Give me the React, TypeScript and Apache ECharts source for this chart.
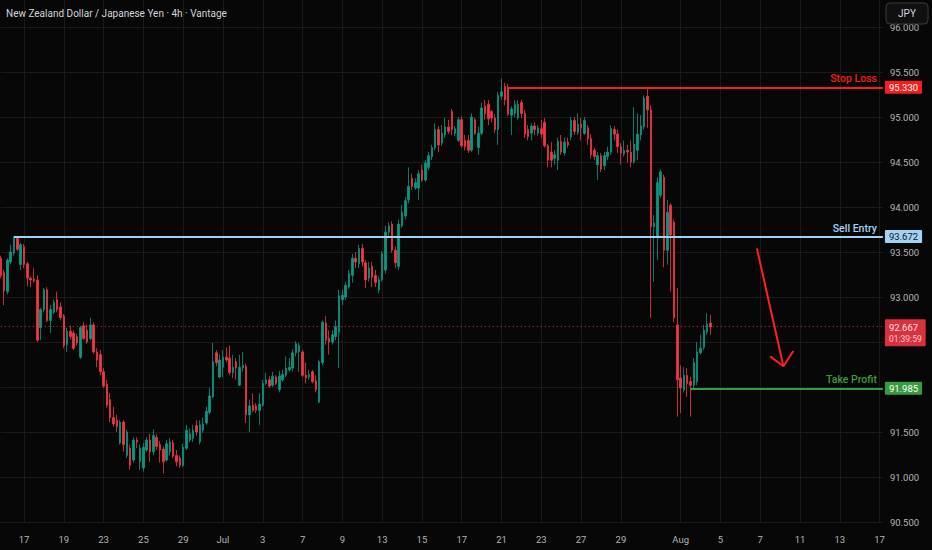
import React, { useEffect, useRef } from "react";
import * as echarts from "echarts";

// ---- candle data (4h bars) ----
const opens = [
  93.43, 93.27, 93.06, 93.39, 93.49, 93.65, 93.36, 93.56, 93.37, 93.21,
  93.20, 93.19, 92.66, 92.86, 93.08, 92.74, 92.83, 92.97, 92.89, 92.79,
  92.47, 92.62, 92.60, 92.56, 92.33, 92.68, 92.63, 92.54, 92.69, 92.39,
  92.36, 92.17, 92.03, 91.86, 91.66, 91.63, 91.38, 91.61, 91.24, 91.32,
  91.19, 91.41, 91.17, 91.10, 91.30, 91.41, 91.28, 91.44, 91.36, 91.31,
  91.19, 91.28, 91.38, 91.24, 91.21, 91.13, 91.32, 91.41, 91.43, 91.57,
  91.39, 91.52, 91.60, 91.72, 91.89, 92.38, 92.11, 92.22, 92.33, 92.32,
  92.16, 92.28, 92.02, 92.21, 92.23, 91.69, 91.80, 91.79, 91.74, 91.80,
  92.04, 92.08, 92.02, 92.11, 91.97, 92.08, 92.13, 92.19, 92.21, 92.38,
  92.39, 92.39, 92.13, 92.11, 92.17, 92.07, 91.83, 92.27, 92.71, 92.54,
  92.50, 92.56, 92.61, 92.97, 93.00, 93.11, 93.24, 93.43, 93.37, 93.54,
  93.38, 93.21, 93.34, 93.24, 93.08, 93.19, 93.30, 93.72, 93.81, 93.52,
  93.34, 93.79, 93.90, 94.08, 94.32, 94.21, 94.21, 94.41, 94.30, 94.44,
  94.56, 94.66, 94.86, 94.71, 94.80, 94.89, 95.06, 94.82, 94.74, 94.97,
  94.74, 94.74, 94.63, 94.97, 94.66, 94.82, 95.12, 95.14, 95.06, 94.99,
  94.86, 95.23, 95.34, 95.33, 95.02, 95.04, 94.99, 95.16, 95.04, 94.86,
  94.82, 94.90, 94.82, 94.87, 94.94, 94.68, 94.61, 94.54, 94.52, 94.73,
  94.60, 94.72, 94.78, 94.96, 94.83, 94.92, 94.82, 94.88, 94.76, 94.63,
  94.47, 94.57, 94.46, 94.56, 94.61, 94.86, 94.81, 94.67, 94.59, 94.63,
  94.61, 94.50, 94.63, 94.80, 94.89, 95.23, 95.08, 93.78, 93.67, 94.13,
  94.33, 93.52, 94.02, 93.83, 92.69, 92.10, 91.97, 92.13, 92.06, 92.02,
  92.06, 92.38, 92.44, 92.61, 92.71,
];
const closes = [
  93.24, 93.07, 93.41, 93.50, 93.67, 93.53, 93.58, 93.36, 93.21, 93.19,
  93.18, 92.52, 92.86, 93.08, 92.74, 92.86, 92.94, 92.86, 92.77, 92.46,
  92.62, 92.56, 92.43, 92.49, 92.66, 92.54, 92.50, 92.69, 92.39, 92.30,
  92.17, 92.01, 91.80, 91.66, 91.59, 91.56, 91.61, 91.36, 91.50, 91.13,
  91.41, 91.39, 91.32, 91.33, 91.41, 91.28, 91.46, 91.34, 91.30, 91.17,
  91.37, 91.39, 91.23, 91.17, 91.13, 91.33, 91.52, 91.48, 91.52, 91.50,
  91.58, 91.59, 91.73, 91.90, 92.28, 92.27, 92.30, 92.33, 92.30, 92.16,
  92.22, 92.21, 92.22, 92.24, 91.69, 91.79, 91.74, 91.74, 91.81, 92.04,
  92.08, 92.01, 92.12, 92.04, 92.12, 92.14, 92.21, 92.22, 92.38, 92.48,
  92.46, 92.13, 92.10, 92.14, 92.06, 91.97, 92.28, 92.72, 92.52, 92.50,
  92.58, 92.67, 93.01, 93.02, 93.13, 93.26, 93.43, 93.39, 93.54, 93.39,
  93.19, 93.32, 93.22, 93.16, 93.19, 93.48, 93.72, 93.79, 93.52, 93.38,
  93.81, 93.94, 94.07, 94.23, 94.23, 94.27, 94.37, 94.30, 94.49, 94.57,
  94.66, 94.86, 94.69, 94.82, 94.89, 94.84, 94.86, 94.87, 94.97, 94.68,
  94.67, 94.63, 95.00, 94.82, 94.82, 95.10, 95.04, 94.98, 94.99, 94.86,
  95.24, 95.28, 95.19, 95.03, 95.09, 95.14, 95.14, 95.04, 94.81, 94.78,
  94.90, 94.86, 94.88, 94.81, 94.68, 94.52, 94.52, 94.58, 94.73, 94.61,
  94.72, 94.69, 94.96, 94.84, 94.92, 94.88, 94.96, 94.76, 94.58, 94.56,
  94.57, 94.42, 94.57, 94.61, 94.87, 94.81, 94.67, 94.60, 94.63, 94.61,
  94.50, 94.70, 94.81, 94.90, 95.21, 95.08, 93.78, 93.82, 94.27, 94.39,
  93.52, 93.94, 93.69, 92.77, 92.08, 91.99, 92.13, 92.04, 92.02, 92.27,
  92.39, 92.43, 92.63, 92.70, 92.667,
];
const highs = [
  93.46, 93.30, 93.43, 93.58, 93.68, 93.66, 93.60, 93.59, 93.39, 93.23,
  93.32, 93.24, 92.88, 93.10, 93.11, 92.91, 92.97, 93.06, 92.94, 92.81,
  92.66, 92.68, 92.63, 92.59, 92.68, 92.72, 92.69, 92.77, 92.72, 92.43,
  92.41, 92.21, 92.08, 91.93, 91.78, 91.69, 91.63, 91.63, 91.52, 91.36,
  91.44, 91.44, 91.36, 91.38, 91.44, 91.48, 91.53, 91.48, 91.40, 91.34,
  91.41, 91.43, 91.41, 91.30, 91.24, 91.37, 91.58, 91.54, 91.58, 91.63,
  91.63, 91.66, 91.78, 91.99, 92.49, 92.41, 92.36, 92.41, 92.44, 92.46,
  92.36, 92.32, 92.36, 92.39, 92.26, 91.86, 91.93, 91.82, 91.93, 92.08,
  92.16, 92.12, 92.17, 92.13, 92.18, 92.19, 92.34, 92.32, 92.42, 92.51,
  92.49, 92.41, 92.27, 92.19, 92.19, 92.13, 92.30, 92.74, 92.79, 92.63,
  92.63, 92.74, 93.08, 93.08, 93.17, 93.30, 93.48, 93.50, 93.58, 93.59,
  93.41, 93.39, 93.39, 93.30, 93.23, 93.51, 93.79, 93.83, 93.84, 93.56,
  93.86, 94.02, 94.11, 94.44, 94.37, 94.32, 94.41, 94.47, 94.52, 94.61,
  94.69, 94.93, 94.90, 94.91, 94.99, 94.97, 95.09, 94.90, 95.00, 95.01,
  94.80, 94.80, 95.04, 94.99, 94.89, 95.16, 95.19, 95.19, 95.08, 95.03,
  95.28, 95.43, 95.38, 95.37, 95.12, 95.19, 95.19, 95.19, 95.08, 94.91,
  94.93, 94.94, 94.91, 94.97, 94.99, 94.70, 94.72, 94.63, 94.77, 94.80,
  94.77, 94.77, 95.00, 95.00, 95.04, 94.99, 95.00, 94.91, 94.81, 94.66,
  94.61, 94.60, 94.61, 94.67, 94.91, 94.90, 94.86, 94.71, 94.74, 94.69,
  94.74, 95.11, 95.04, 95.02, 95.24, 95.32, 95.13, 93.91, 94.33, 94.42,
  94.36, 94.08, 94.04, 93.86, 93.10, 92.24, 92.22, 92.21, 92.11, 92.32,
  92.50, 92.58, 92.69, 92.82, 92.80,
];
const lows = [
  93.21, 92.91, 93.03, 93.37, 93.46, 93.51, 93.30, 93.32, 93.12, 93.11,
  93.16, 92.50, 92.52, 92.83, 92.72, 92.60, 92.81, 92.83, 92.74, 92.43,
  92.39, 92.53, 92.41, 92.46, 92.31, 92.52, 92.48, 92.52, 92.37, 92.22,
  92.13, 91.99, 91.77, 91.61, 91.56, 91.50, 91.36, 91.28, 91.21, 91.08,
  91.16, 91.32, 91.08, 91.06, 91.28, 91.17, 91.24, 91.30, 91.16, 91.04,
  91.17, 91.24, 91.21, 91.12, 91.10, 91.11, 91.30, 91.39, 91.39, 91.46,
  91.36, 91.49, 91.58, 91.70, 91.88, 92.23, 92.10, 92.11, 92.28, 92.13,
  92.10, 92.08, 92.01, 92.17, 91.60, 91.50, 91.72, 91.71, 91.58, 91.78,
  92.02, 91.99, 92.00, 92.02, 91.94, 92.06, 92.11, 92.17, 92.17, 92.34,
  92.17, 92.11, 92.04, 92.08, 92.04, 91.94, 91.82, 92.24, 92.47, 92.36,
  92.47, 92.52, 92.21, 92.91, 92.97, 93.09, 93.16, 93.32, 93.32, 93.34,
  93.10, 93.17, 93.11, 93.11, 93.04, 93.17, 93.26, 93.68, 93.49, 93.32,
  93.30, 93.77, 93.86, 94.04, 94.19, 94.19, 94.08, 94.28, 94.28, 94.41,
  94.52, 94.63, 94.61, 94.68, 94.77, 94.81, 94.80, 94.79, 94.72, 94.66,
  94.63, 94.60, 94.61, 94.80, 94.58, 94.80, 94.97, 94.91, 94.94, 94.82,
  94.69, 95.19, 95.13, 95.01, 94.80, 95.00, 94.97, 94.99, 94.77, 94.74,
  94.74, 94.80, 94.79, 94.77, 94.66, 94.44, 94.44, 94.47, 94.41, 94.58,
  94.57, 94.66, 94.74, 94.80, 94.80, 94.74, 94.80, 94.69, 94.54, 94.52,
  94.30, 94.39, 94.41, 94.52, 94.58, 94.74, 94.60, 94.47, 94.56, 94.49,
  94.44, 94.48, 94.52, 94.74, 94.86, 94.88, 92.77, 93.17, 93.41, 94.10,
  93.33, 93.36, 93.06, 92.72, 91.67, 91.71, 91.94, 91.89, 91.67, 91.99,
  92.02, 92.36, 92.41, 92.58, 92.58,
];

// ---- time axis: bar slots (history + empty future) and date ticks ----
const SLOT_COUNT = 267;
const categories = Array.from({ length: SLOT_COUNT }, (_, i) => String(i));
const tickIndex = [7, 19, 31, 43, 55, 67, 79, 91, 103, 115, 127, 139, 151, 163, 175, 187, 205, 217, 229, 241, 253, 265];
const tickText = ["17", "19", "23", "25", "29", "Jul", "3", "7", "9", "13", "15", "17", "21", "23", "27", "29", "Aug", "5", "7", "11", "13", "17"];

// ---- price axis ----
const priceMin = 90.5;
const priceMax = 96.5;
const priceStep = 0.5;
// axis prices hidden under the price tags (92.667 box and 91.985 box)
const coveredTicks = [92.5, 92.0];

// ---- drawings ----
const stopLossPrice = 95.33;
const stopLossFrom = 153;
const sellEntryPrice = 93.672;
const sellEntryFrom = 4;
const takeProfitPrice = 91.985;
const takeProfitFrom = 208;
const lastPrice = 92.667;
const countdown = "01:39:59";
const arrowShaft = [[228, 93.54], [236, 92.23]];
const arrowHead = [[232, 92.34], [236, 92.23], [239, 92.4]];

const FONT = "Roboto, 'Noto Sans', sans-serif";
const UP = "#089981";
const DOWN = "#f23645";
const GRID = "#1a1a1a";
const AXIS_TEXT = "#b4b4b4";

function levelLines(price: number, from: number, color: string, name: string, boxText: string) {
  const last = SLOT_COUNT - 1;
  const line = { color, width: 2, type: "solid" as const };
  const hidden = { color: "rgba(0,0,0,0)", width: 0, type: "solid" as const };
  const box = {
    show: true,
    position: "end",
    distance: [2, 0],
    formatter: price.toFixed(3),
    backgroundColor: color,
    color: boxText,
    fontFamily: FONT,
    fontSize: 9.5,
    padding: [2, 4, 1, 4],
    borderRadius: 1,
  };
  const tag = {
    show: true,
    position: "insideEndTop",
    distance: [6, 3],
    formatter: name,
    color,
    fontFamily: FONT,
    fontSize: 10.5,
    fontWeight: 500,
  };
  return [
    [
      { coord: [from, price], lineStyle: line, label: box },
      { coord: [last, price], lineStyle: line, label: box },
    ],
    [
      { coord: [from, price], lineStyle: hidden, label: tag },
      { coord: [last, price], lineStyle: hidden, label: tag },
    ],
  ];
}

export default function App() {
  const ref = useRef<HTMLDivElement>(null);

  useEffect(() => {
    document.body.style.margin = "0";
    document.body.style.background = "#070707";
    if (!ref.current) return;
    const chart = echarts.init(ref.current, undefined, { renderer: "svg" });

    const ohlc = opens.map((o, i) => [o, closes[i], lows[i], highs[i]]);
    const tickSet = new Set(tickIndex);
    const tickMap: Record<number, string> = {};
    tickIndex.forEach((t, k) => (tickMap[t] = tickText[k]));

    const option: any = {
      animation: false,
      backgroundColor: "#070707",
      grid: {
        left: 0.79,
        right: 49.1,
        top: -18,
        bottom: 28,
        containLabel: false,
        outerBoundsMode: "none",
      },
      xAxis: {
        type: "category",
        data: categories,
        boundaryGap: false,
        axisLine: { show: false },
        axisTick: { show: false },
        axisLabel: {
          interval: (i: number) => tickSet.has(i),
          formatter: (v: string) => tickMap[Number(v)] ?? "",
          color: AXIS_TEXT,
          fontFamily: FONT,
          fontSize: 9.5,
          margin: 12,
        },
        splitLine: {
          show: true,
          interval: (i: number) => tickSet.has(i),
          lineStyle: { color: GRID, width: 1 },
        },
      },
      yAxis: {
        type: "value",
        position: "right",
        min: priceMin,
        max: priceMax,
        interval: priceStep,
        axisLine: { show: false },
        axisTick: { show: false },
        axisLabel: {
          color: AXIS_TEXT,
          fontFamily: FONT,
          fontSize: 9.5,
          margin: 7,
          showMaxLabel: false,
          formatter: (v: number) =>
            coveredTicks.some((c) => Math.abs(c - v) < 1e-6) ? "" : v.toFixed(3),
        },
        splitLine: { show: true, lineStyle: { color: GRID, width: 1 } },
      },
      series: [
        {
          type: "candlestick",
          data: ohlc,
          barWidth: 2,
          itemStyle: {
            color: UP,
            color0: DOWN,
            borderColor: UP,
            borderColor0: DOWN,
            borderWidth: 0.8,
          },
          z: 2,
        },
        {
          type: "line",
          data: arrowShaft,
          symbol: "none",
          clip: false,
          silent: true,
          lineStyle: { color: "#ff1f1f", width: 2 },
          z: 6,
          markLine: {
            silent: true,
            symbol: ["none", "none"],
            animation: false,
            z: 5,
            data: [
              {
                yAxis: lastPrice,
                lineStyle: { color: DOWN, width: 1, type: [1, 3], opacity: 0.9 },
                label: {
                  show: true,
                  position: "end",
                  distance: [2, 0],
                  offset: [0, 6],
                  formatter: `{p|${lastPrice.toFixed(3)}}\n{t|${countdown}}`,
                  backgroundColor: DOWN,
                  padding: [2, 4, 1, 4],
                  borderRadius: 1,
                  rich: {
                    p: { color: "#ffffff", fontFamily: FONT, fontSize: 9.5, lineHeight: 12 },
                    t: { color: "#ffe0e2", fontFamily: FONT, fontSize: 8.5, lineHeight: 12 },
                  },
                },
              },
              ...levelLines(stopLossPrice, stopLossFrom, "#f51d1d", "Stop Loss", "#ffffff"),
              ...levelLines(sellEntryPrice, sellEntryFrom, "#a3d2f5", "Sell Entry", "#131722"),
              ...levelLines(takeProfitPrice, takeProfitFrom, "#3b9a3e", "Take Profit", "#ffffff"),
            ],
          },
        },
        {
          type: "line",
          data: arrowHead,
          symbol: "none",
          clip: false,
          silent: true,
          lineStyle: { color: "#ff1f1f", width: 2 },
          z: 6,
        },
      ],
      graphic: [
        {
          type: "text",
          left: 6,
          top: 8,
          z: 20,
          style: {
            text: "New Zealand Dollar / Japanese Yen · 4h · Vantage",
            fill: "#d1d4dc",
            font: `10px ${FONT}`,
          },
        },
        {
          type: "rect",
          z: 20,
          shape: { x: 886, y: 3, width: 42, height: 21, r: 4 },
          style: { fill: "#101010", stroke: "#3a3a3a", lineWidth: 1 },
        },
        {
          type: "text",
          z: 21,
          x: 907,
          y: 13.5,
          style: {
            text: "JPY",
            fill: "#d1d4dc",
            font: `10px ${FONT}`,
            textAlign: "center",
            textVerticalAlign: "middle",
          },
        },
      ],
    };

    chart.setOption(option);
    return () => chart.dispose();
  }, []);

  return (
    <div
      ref={ref}
      style={{ position: "fixed", left: 0, top: 0, width: 932, height: 550 }}
    />
  );
}
